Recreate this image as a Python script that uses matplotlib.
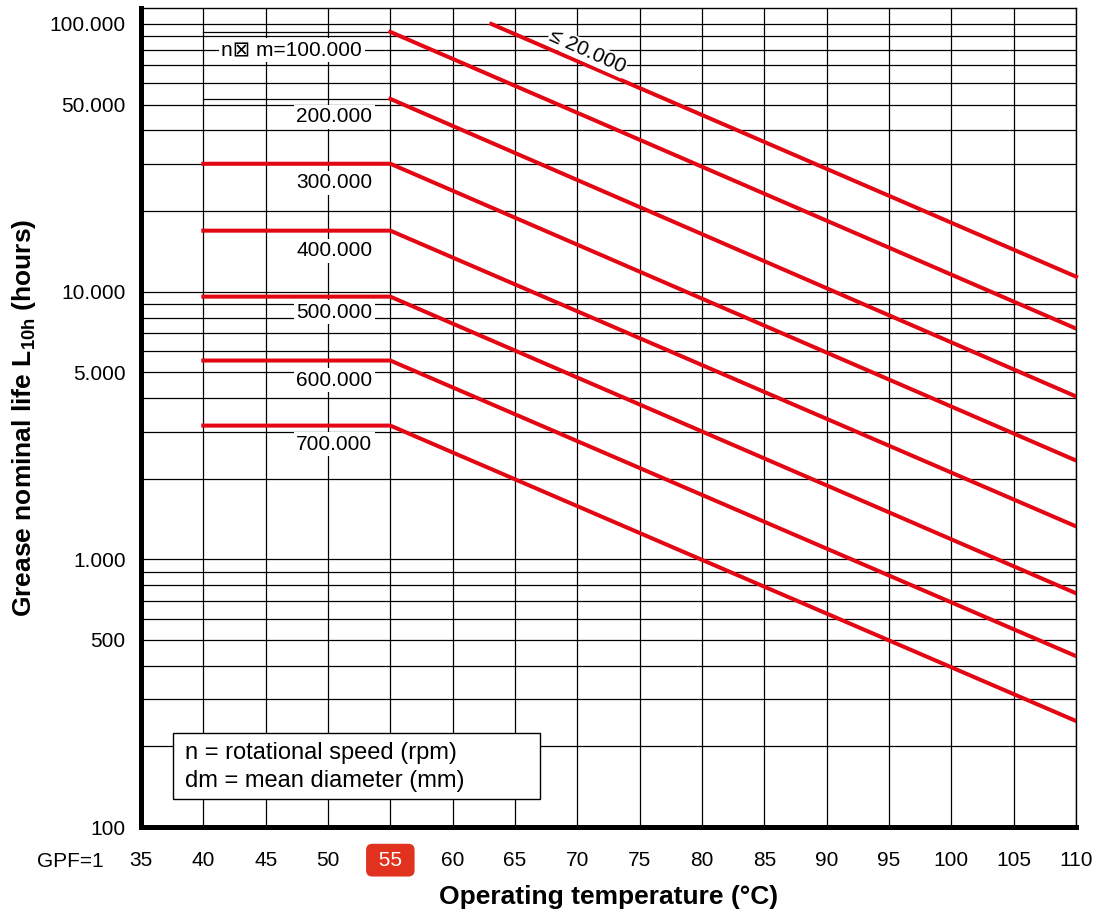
import numpy as np
import matplotlib.pyplot as plt
from matplotlib.patches import Rectangle
from matplotlib.ticker import FixedLocator, LogLocator, NullFormatter

plt.rcParams['font.family'] = ['Liberation Sans', 'DejaVu Sans']
plt.rcParams['mathtext.fontset'] = 'custom'
plt.rcParams['mathtext.bf'] = 'Liberation Sans:bold'
plt.rcParams['mathtext.rm'] = 'Liberation Sans'

# n x dm curves: life at 55 °C (flat from 40 to 55) and at 110 °C
speed_labels = ['n\u22a0 m=100.000', '200.000', '300.000', '400.000',
                '500.000', '600.000', '700.000']
life_55 = [93400, 52500, 30050, 16900, 9580, 5530, 3160]
life_110 = [7280, 4060, 2340, 1328, 747, 435, 249]
red_flat = [False, False, True, True, True, True, True]
label_life = [80000, 45000, 25500, 14230, 8360, 4660, 2690]
label_temp = [47.1, 50.5, 50.5, 50.5, 50.5, 50.5, 50.5]

# the "<= 20.000" curve
low_label = '\u2264 20.000'
low_temp = [63.1, 110]
low_life = [100000, 11380]

xticks = list(range(35, 115, 5))
yticks = [100, 500, 1000, 5000, 10000, 50000, 100000]
ytick_labels = ['100', '500', '1.000', '5.000', '10.000', '50.000', '100.000']

red = '#e30613'

fig = plt.figure(figsize=(10.98, 9.21), dpi=100)
ax = fig.add_axes([0.1284, 0.102, 0.8516, 0.8893])
ax.set_yscale('log')
ax.set_xlim(35, 110)
ax.set_ylim(100, 114700)

ax.set_xticks(xticks)
ax.set_xticklabels([' 55 ' if t == 55 else str(t) for t in xticks], fontsize=15)
ax.yaxis.set_major_locator(FixedLocator(yticks))
ax.set_yticklabels(ytick_labels, fontsize=15)
ax.yaxis.set_minor_locator(LogLocator(base=10, subs=np.arange(1, 10)))
ax.yaxis.set_minor_formatter(NullFormatter())
ax.tick_params(which='both', length=0)
ax.tick_params(axis='x', pad=17)
ax.tick_params(axis='y', pad=11)

ax.set_axisbelow(True)
ax.grid(axis='x', color='black', lw=0.9)
ax.grid(axis='y', which='both', color='black', lw=0.9)

for s in ['left', 'bottom']:
    ax.spines[s].set_linewidth(3.6)
for s in ['top', 'right']:
    ax.spines[s].set_linewidth(1)

for i in range(len(speed_labels)):
    if red_flat[i]:
        ax.plot([40, 55, 110], [life_55[i], life_55[i], life_110[i]], color=red, lw=2.9, zorder=3)
    else:
        ax.plot([40, 55], [life_55[i], life_55[i]], color='black', lw=0.9, zorder=2)
        ax.plot([55, 110], [life_55[i], life_110[i]], color=red, lw=2.9, zorder=3)
    ax.text(label_temp[i], label_life[i], speed_labels[i], fontsize=15, ha='center', va='center',
            bbox=dict(boxstyle='square,pad=0.12', fc='white', ec='none'), zorder=4)

ax.plot(low_temp, low_life, color=red, lw=2.9, zorder=3, clip_on=False)
ax.text(70.8, 78600, low_label, fontsize=15, ha='center', va='center', rotation=-24,
        rotation_mode='anchor',
        bbox=dict(boxstyle='square,pad=0.05', fc='white', ec='none'), zorder=4)

# legend box
ax.add_patch(Rectangle((0.0342, 0.0342), 0.3925, 0.0806, transform=ax.transAxes,
                       fc='white', ec='black', lw=1, zorder=4))
ax.text(0.047, 0.0733, 'n = rotational speed (rpm)\ndm = mean diameter (mm)',
        transform=ax.transAxes, fontsize=17, va='center', ha='left',
        linespacing=1.35, zorder=5)

ax.text(29.3, -0.0415, 'GPF=1', transform=ax.get_xaxis_transform(), fontsize=15,
        ha='center', va='center', clip_on=False)

for lbl in ax.get_xticklabels():
    if lbl.get_text() == ' 55 ':
        lbl.set_color('white')
        lbl.set_bbox(dict(boxstyle='round,pad=0.33,rounding_size=0.3', fc='#e0321e', ec='none'))

ax.set_xlabel('Operating temperature (°C)', fontsize=19, fontweight='bold')
ax.xaxis.set_label_coords(0.5, -0.071)
ax.set_ylabel(r'Grease nominal life $\mathbf{L_{10h}}$ (hours)', fontsize=19, fontweight='bold')
ax.yaxis.set_label_coords(-0.11, 0.5)

fig.savefig('out.png', dpi=100)
